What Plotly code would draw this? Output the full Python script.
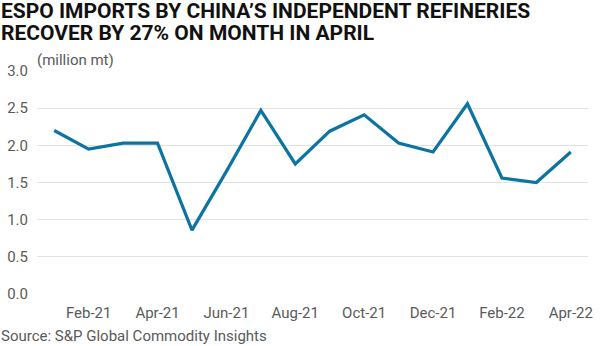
import plotly.graph_objects as go

months = ["Jan-21", "Feb-21", "Mar-21", "Apr-21", "May-21", "Jun-21", "Jul-21", "Aug-21",
          "Sep-21", "Oct-21", "Nov-21", "Dec-21", "Jan-22", "Feb-22", "Mar-22", "Apr-22"]
imports = [2.20, 1.95, 2.03, 2.03, 0.86, 1.65, 2.47, 1.75,
           2.19, 2.41, 2.03, 1.91, 2.56, 1.56, 1.50, 1.91]
tick_labels = ["Feb-21", "Apr-21", "Jun-21", "Aug-21", "Oct-21", "Dec-21", "Feb-22", "Apr-22"]
y_ticks = [0.0, 0.5, 1.0, 1.5, 2.0, 2.5, 3.0]

title_lines = ["ESPO IMPORTS BY CHINA\u2019S INDEPENDENT REFINERIES",
               "RECOVER BY 27% ON MONTH IN APRIL"]
unit_label = "(million mt)"
source_text = "Source: S&P Global Commodity Insights"

fig = go.Figure()
fig.add_trace(go.Scatter(x=months, y=imports, mode="lines",
                         line=dict(color="#0d73a0", width=3.2), hoverinfo="x+y"))

fig.update_layout(
    width=611, height=346,
    margin=dict(l=37, r=23, t=71, b=52),
    paper_bgcolor="white", plot_bgcolor="white",
    showlegend=False,
    font=dict(family="Roboto, sans-serif", color="#5a5a5a", size=15),
    xaxis=dict(type="category", range=[-0.5, len(months) - 0.5],
               tickmode="array", tickvals=tick_labels, ticktext=tick_labels,
               showgrid=False, zeroline=False, showline=False, ticks="",
               ticklabelstandoff=8, automargin=False,
               tickfont=dict(size=15, color="#5a5a5a")),
    yaxis=dict(range=[0, 3.0], tickmode="array", tickvals=y_ticks,
               ticktext=[f"{v:.1f}" for v in y_ticks],
               showgrid=True, gridcolor="#e3e3e3", gridwidth=1,
               zeroline=False, showline=False, ticks="", ticklabelstandoff=8,
               automargin=False,
               tickfont=dict(size=15, color="#5a5a5a")),
)

fig.add_annotation(text="<b>" + title_lines[0] + "</b>", x=0, y=1, xref="paper", yref="paper",
                   xanchor="left", yanchor="top", align="left", showarrow=False,
                   font=dict(family="Roboto, sans-serif", size=21, color="#111111"),
                   xshift=-38, yshift=74)
fig.add_annotation(text="<b>" + title_lines[1] + "</b>", x=0, y=1, xref="paper", yref="paper",
                   xanchor="left", yanchor="top", align="left", showarrow=False,
                   font=dict(family="Roboto, sans-serif", size=21, color="#111111"),
                   xshift=-38, yshift=52)
fig.add_annotation(text=unit_label, x=0, y=1, xref="paper", yref="paper",
                   xanchor="left", yanchor="bottom", showarrow=False,
                   font=dict(family="Roboto", size=15, color="#5a5a5a"),
                   xshift=-2, yshift=0)
fig.add_annotation(text=source_text, x=0, y=0, xref="paper", yref="paper",
                   xanchor="left", yanchor="top", showarrow=False,
                   font=dict(family="Roboto", size=15, color="#5a5a5a"),
                   xshift=-38, yshift=-31)

fig.write_html("out.html")
